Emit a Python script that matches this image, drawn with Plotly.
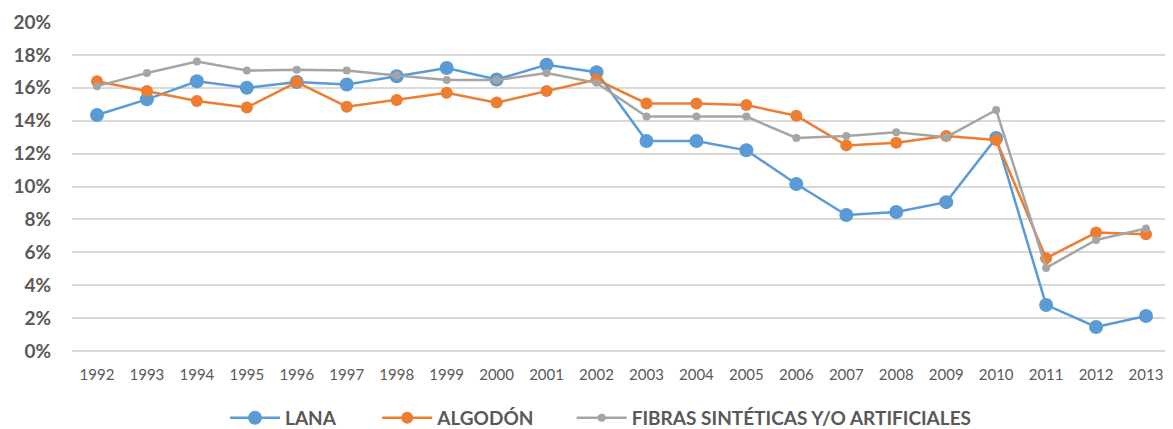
import plotly.graph_objects as go

years = [str(y) for y in range(1992, 2014)]
lana = [14.35, 15.3, 16.4, 16.0, 16.35, 16.2, 16.7, 17.2, 16.5, 17.4, 16.95, 12.77, 12.77, 12.2,
        10.15, 8.27, 8.45, 9.05, 12.95, 2.8, 1.46, 2.13]
algodon = [16.4, 15.8, 15.2, 14.8, 16.35, 14.85, 15.26, 15.7, 15.1, 15.8, 16.5, 15.05, 15.05, 14.95,
           14.3, 12.5, 12.66, 13.07, 12.83, 5.64, 7.2, 7.1]
fibras = [16.1, 16.9, 17.6, 17.05, 17.1, 17.05, 16.75, 16.47, 16.47, 16.9, 16.3, 14.25, 14.25, 14.25,
          12.95, 13.07, 13.3, 13.0, 14.65, 5.05, 6.75, 7.45]
yticks = [0, 2, 4, 6, 8, 10, 12, 14, 16, 18, 20]

NB = "\u00a0"
series = [
    ("LANA" + NB * 8, lana, "#5B9BD5", 14),
    ("ALGODÓN" + NB * 7, algodon, "#ED7D31", 12),
    ("FIBRAS SINTÉTICAS Y/O ARTIFICIALES", fibras, "#A5A5A5", 8),
]

fig = go.Figure()
for name, vals, color, msize in series:
    fig.add_trace(go.Scatter(
        x=list(range(len(years))), y=[v / 100 for v in vals], name=name,
        mode="lines+markers",
        line=dict(color=color, width=2.5),
        marker=dict(color=color, size=msize),
    ))

fig.update_layout(
    width=1173, height=429,
    margin=dict(l=64, r=16, t=14, b=86, autoexpand=False),
    paper_bgcolor="white", plot_bgcolor="white",
    font=dict(family="Lato, Open Sans, sans-serif", color="#595959"),
    showlegend=True,
    legend=dict(orientation="h", x=0.14, xanchor="left",
                yref="container", y=0.0, yanchor="bottom",
                font=dict(size=19, color="#595959", family="Lato, sans-serif", weight="bold"),
                itemwidth=50, traceorder="normal"),
)
fig.update_xaxes(
    range=[-0.5, 21.38], automargin=False,
    tickmode="array", tickvals=list(range(len(years))), ticktext=years,
    showgrid=False, showline=False, zeroline=False,
    ticks="outside", ticklen=10, tickcolor="rgba(0,0,0,0)",
    tickfont=dict(size=15, color="#595959"),
)
fig.update_yaxes(
    range=[0, 0.2], automargin=False,
    tickmode="array", tickvals=[v / 100 for v in yticks], ticktext=[f"{v}%" for v in yticks],
    showgrid=True, gridcolor="#D9D9D9", gridwidth=1.5,
    zeroline=True, zerolinecolor="#D9D9D9", zerolinewidth=1.5,
    showline=False,
    ticks="outside", ticklen=16, tickcolor="rgba(0,0,0,0)",
    tickfont=dict(size=19, color="#595959", weight="bold"),
)

fig.write_html("out.html")
